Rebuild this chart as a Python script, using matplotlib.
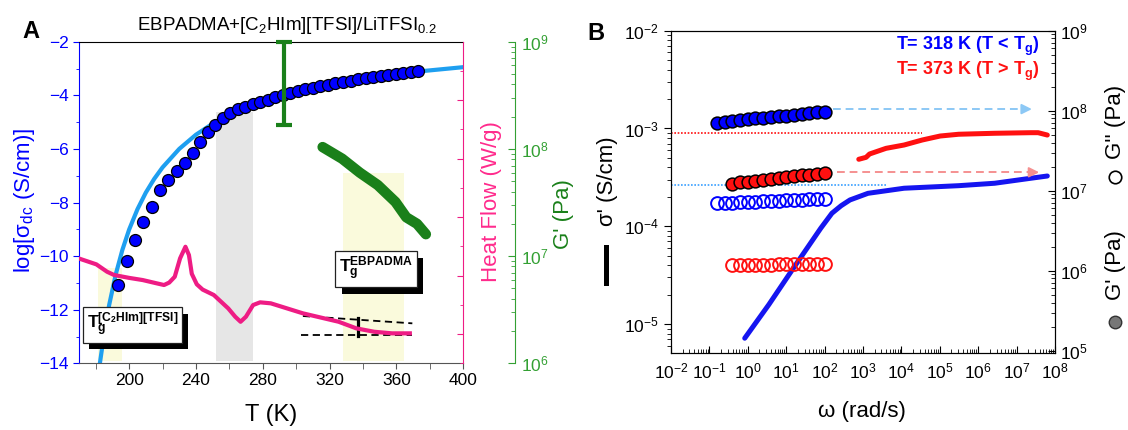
import numpy as np
import matplotlib.pyplot as plt
from matplotlib.lines import Line2D
from matplotlib.patches import Rectangle
from matplotlib.transforms import IdentityTransform
from matplotlib.ticker import MultipleLocator, LogLocator, NullFormatter

plt.rcParams['font.family'] = ['Liberation Sans', 'DejaVu Sans']
plt.rcParams['mathtext.fontset'] = 'custom'
plt.rcParams['mathtext.rm'] = 'Liberation Sans'
plt.rcParams['mathtext.it'] = 'Liberation Sans:italic'
plt.rcParams['mathtext.bf'] = 'Liberation Sans:bold'

# ---------------- Panel A data ----------------
# conductivity (log sigma_dc) vs T
T_pts = [193.2, 198.5, 203.4, 208.1, 213.4, 218.7, 223.5, 228.4, 233.3, 238.0, 242.6,
         247.0, 251.5, 256.0, 260.5, 265.0, 269.5, 274.0, 278.5, 283.0, 287.5, 292.0,
         296.5, 301.0, 305.5, 310.0, 314.5, 319.0, 323.5, 328.0, 332.5, 337.0, 341.5,
         346.0, 350.5, 355.0, 359.5, 364.0, 368.5, 373.0]
logsig_pts = [-11.08, -10.18, -9.40, -8.74, -8.16, -7.53, -7.16, -6.81, -6.54, -6.14, -5.73,
              -5.36, -5.11, -4.86, -4.67, -4.52, -4.42, -4.33, -4.24, -4.16, -4.08, -4.00,
              -3.92, -3.85, -3.78, -3.72, -3.66, -3.60, -3.55, -3.50, -3.45, -3.41, -3.36,
              -3.32, -3.28, -3.25, -3.21, -3.18, -3.14, -3.08]
# VFT fit curve
T_fit = [182.5, 185, 188, 192, 196, 200, 205, 210, 215, 220, 230, 240, 250, 260, 275,
         290, 310, 330, 350, 375, 400]
logsig_fit = [-14.0, -12.92, -11.84, -10.68, -9.76, -9.01, -8.25, -7.63, -7.12, -6.69,
              -6.00, -5.47, -5.06, -4.73, -4.34, -4.03, -3.72, -3.48, -3.29, -3.10, -2.95]
# DSC heat flow (arbitrary offset, W/g)
T_dsc = [169.7, 180.4, 186.8, 191.0, 200.0, 208.1, 216.0, 220.9, 224.0, 227.3, 230.5,
         233.7, 235.8, 237.5, 240.5, 244.0, 250.7, 259.3, 263.5, 266.7, 269.9, 274.2,
         278.4, 284.8, 304.0, 325.4, 336.0, 346.7, 357.4, 368.0]
heat_flow = [1.294, 1.191, 1.065, 1.009, 0.960, 0.923, 0.870, 0.838, 0.880, 0.979, 1.294,
             1.492, 1.350, 1.030, 0.850, 0.760, 0.667, 0.439, 0.296, 0.210, 0.296, 0.496,
             0.542, 0.525, 0.354, 0.210, 0.097, 0.039, 0.012, 0.012]
# Tg construction
T_tan_up = [304.0, 369.5]
hf_tan_up = [0.308, 0.183]
T_tan_low = [303.0, 369.0]
hf_tan_low = [-0.017, -0.017]
T_step = 337.1
hf_step = [-0.034, 0.268]
# storage modulus G'
T_gp = [315.8, 327.5, 338.1, 348.8, 359.4, 365.9, 372.3, 377.6]
Gp_A = [1.04e8, 8.1e7, 6.0e7, 4.6e7, 3.2e7, 2.3e7, 2.0e7, 1.6e7]
T_err = 292.7
G_err = 4.1e8
G_err_lo = 1.66e8
G_err_hi = 1.0e9
# shaded regions (T range, log sigma range)
band_yellow1 = [181.4, 195.7, -13.9, -10.46]
band_gray = [251.8, 274.2, -13.9, -4.61]
band_yellow2 = [328.1, 364.4, -13.9, -6.91]

# ---------------- Panel B data ----------------
logw_318 = [-0.08, 0.55, 1.15, 1.90, 2.19, 2.43, 2.66, 3.13, 4.07, 5.49, 6.43, 7.37, 7.80]
logsig_318 = [-5.145, -4.80, -4.45, -4.02, -3.867, -3.79, -3.731, -3.663, -3.611, -3.585,
              -3.560, -3.509, -3.486]
logw_373 = [2.89, 3.08, 3.17, 3.60, 4.07, 4.54, 5.01, 5.49, 6.43, 7.37, 7.56, 7.80]
logsig_373 = [-3.315, -3.295, -3.261, -3.203, -3.169, -3.118, -3.077, -3.059, -3.049,
              -3.043, -3.043, -3.067]
w_318 = [0.158, 0.251, 0.398, 0.631, 1.0, 1.58, 2.51, 3.98, 6.31, 10, 15.8, 25.1, 39.8, 63.1, 100]
w_373 = [0.398, 0.631, 1.0, 1.58, 2.51, 3.98, 6.31, 10, 15.8, 25.1, 39.8, 63.1, 100]
Gp_318 = [7.0e7, 7.2e7, 7.4e7, 7.6e7, 7.8e7, 8.0e7, 8.2e7, 8.3e7, 8.5e7, 8.7e7, 8.9e7,
          9.1e7, 9.3e7, 9.5e7, 9.7e7]
Gp_373 = [1.23e7, 1.27e7, 1.30e7, 1.34e7, 1.37e7, 1.41e7, 1.44e7, 1.48e7, 1.51e7, 1.55e7,
          1.58e7, 1.62e7, 1.66e7]
Gpp_318 = [6.95e6, 7.0e6, 7.1e6, 7.2e6, 7.25e6, 7.3e6, 7.4e6, 7.45e6, 7.5e6, 7.6e6,
           7.65e6, 7.7e6, 7.8e6, 7.85e6, 7.9e6]
Gpp_373 = [1.17e6, 1.175e6, 1.18e6, 1.185e6, 1.19e6, 1.195e6, 1.2e6, 1.205e6, 1.21e6,
           1.215e6, 1.22e6, 1.225e6, 1.23e6]
sig_dc_318 = 2.64e-4
sig_dc_373 = 8.93e-4

BLUE = '#0000ff'
LBLUE = '#1e9ff0'
PINK = '#ee1c84'
GREEN = '#1a801a'
GREEN_AX = '#33a033'
RED = '#ff1010'

W, H = 1128, 430
fig = plt.figure(figsize=(W / 100, H / 100), dpi=100)


def fx(px):
    return px / W


def fy(py):
    return 1 - py / H


# ================= Panel A =================
axA = fig.add_axes([fx(79), fy(363.3), fx(463.3 - 79), (363.3 - 41.7) / H])
for b in (band_yellow1, band_gray, band_yellow2):
    col = '#e6e6e6' if b is band_gray else '#fafadc'
    axA.fill_between([b[0], b[1]], b[2], b[3], color=col, lw=0, zorder=0)
axA.plot(T_fit, logsig_fit, color=LBLUE, lw=3, zorder=2)
axA.plot(T_pts, logsig_pts, 'o', ms=8.6, mfc=BLUE, mec='black', mew=0.9, zorder=3)
axA.set_xlim(170, 400)
axA.set_ylim(-14, -2)
axA.xaxis.set_major_locator(MultipleLocator(40))
axA.xaxis.set_minor_locator(MultipleLocator(20))
axA.yaxis.set_major_locator(MultipleLocator(2))
axA.yaxis.set_minor_locator(MultipleLocator(1))
axA.tick_params(axis='x', which='both', direction='out', length=4, color='#555555',
                labelsize=12.5, pad=3)
axA.tick_params(axis='y', which='major', direction='out', length=4, color=BLUE,
                labelcolor=BLUE, labelsize=12.5)
axA.tick_params(axis='y', which='minor', direction='out', length=2.5, color=BLUE)
axA.spines['left'].set_color(BLUE)
axA.spines['bottom'].set_color('#555555')
axA.spines['right'].set_visible(False)

axHF = axA.twinx()
axHF.plot(T_dsc, heat_flow, color=PINK, lw=3, zorder=3)
axHF.plot(T_tan_up, hf_tan_up, color='black', lw=1.3, ls=(0, (4, 2.5)))
axHF.plot(T_tan_low, hf_tan_low, color='black', lw=1.3, ls=(0, (4, 2.5)))
axHF.plot([T_step, T_step], hf_step, color='black', lw=2.3)
axHF.set_ylim(-0.5, 4.997)
axHF.yaxis.set_major_locator(MultipleLocator(1))
axHF.yaxis.set_minor_locator(MultipleLocator(0.5))
axHF.tick_params(axis='y', which='major', direction='in', length=4.5, color=PINK,
                 labelright=False)
axHF.tick_params(axis='y', which='minor', direction='in', length=2.5, color=PINK)
axHF.spines['right'].set_color(PINK)
for s in ('left', 'top', 'bottom'):
    axHF.spines[s].set_visible(False)

axG = axA.twinx()
axG.plot(T_gp, Gp_A, color=GREEN, lw=7.5, solid_capstyle='round', zorder=3)
axG.errorbar([T_err], [G_err], yerr=[[G_err - G_err_lo], [G_err_hi - G_err]], fmt='none',
             ecolor=GREEN, elinewidth=3, capsize=5.5, capthick=3, clip_on=False, zorder=4)
axG.set_yscale('log')
axG.set_ylim(1e6, 1e9)
axG.spines['right'].set_position(('axes', (515 - 79) / (463.3 - 79)))
axG.spines['right'].set_color(GREEN_AX)
for s in ('left', 'top', 'bottom'):
    axG.spines[s].set_visible(False)
axG.yaxis.set_major_locator(LogLocator(base=10, numticks=10))
axG.yaxis.set_minor_locator(LogLocator(base=10, subs=np.arange(2, 10), numticks=50))
axG.yaxis.set_minor_formatter(NullFormatter())
axG.tick_params(axis='y', which='major', direction='in', length=5, color=GREEN_AX,
                labelcolor=GREEN_AX, labelsize=12.5, pad=4)
axG.tick_params(axis='y', which='minor', direction='in', length=3, color=GREEN_AX)

# Tg boxes (white box with a black drop shadow)
box_txt1 = r'$\mathbf{T}_{\mathbf{g}}^{\mathbf{[C}_{\mathbf{2}}\mathbf{HIm][TFSI]}}$'
box_txt2 = r'$\mathbf{T}_{\mathbf{g}}^{\mathbf{EBPADMA}}$'
boxes = []
for txt, xy in ((box_txt1, (201.9, -12.57)), (box_txt2, (347.7, -10.49))):
    ann = axG.annotate(txt, xy=xy, xycoords=axA.transData, ha='center', va='center',
                       fontsize=12.5, color='black', zorder=10,
                       bbox=dict(boxstyle='square,pad=0.22', fc='white', ec='#222222',
                                 lw=0.9))
    boxes.append(ann)

# ================= Panel B =================
axB = fig.add_axes([fx(671), fy(352.7), fx(1055 - 671), (352.7 - 30.7) / H])
axB.set_xscale('log')
axB.set_yscale('log')
axB.plot([1e-2, 10 ** 4.54], [sig_dc_373, sig_dc_373], color=RED, lw=1.2, ls=(0, (1, 1)))
axB.plot([1e-2, 10 ** 3.6], [sig_dc_318, sig_dc_318], color='#3aa0ff', lw=1.2,
         ls=(0, (1, 1)))
axB.plot(10 ** np.array(logw_318), 10 ** np.array(logsig_318), color='#1515f0', lw=3.6,
         solid_capstyle='round')
axB.plot(10 ** np.array(logw_373), 10 ** np.array(logsig_373), color=RED, lw=3.6,
         solid_capstyle='round')
axB.set_xlim(1e-2, 1e8)
axB.set_ylim(10 ** -5.293, 1e-2)
axB.xaxis.set_major_locator(LogLocator(base=10, numticks=20))
axB.xaxis.set_minor_locator(LogLocator(base=10, subs=np.arange(2, 10), numticks=200))
axB.xaxis.set_minor_formatter(NullFormatter())
axB.yaxis.set_major_locator(LogLocator(base=10, numticks=20))
axB.yaxis.set_minor_locator(LogLocator(base=10, subs=np.arange(2, 10), numticks=200))
axB.yaxis.set_minor_formatter(NullFormatter())
axB.tick_params(axis='x', which='major', direction='in', length=5, labelsize=12.5, pad=6)
axB.tick_params(axis='x', which='minor', direction='in', length=3)
axB.tick_params(axis='y', which='major', direction='out', length=5, labelsize=12.5)
axB.tick_params(axis='y', which='minor', direction='out', length=3)

axBr = axB.twinx()
axBr.set_yscale('log')
axBr.plot(w_318, Gp_318, 'o', ms=9.2, mfc=BLUE, mec='black', mew=1.1)
axBr.plot(w_373, Gp_373, 'o', ms=9.2, mfc=RED, mec='black', mew=1.1)
axBr.plot(w_318, Gpp_318, 'o', ms=9.2, mfc='none', mec=BLUE, mew=1.4)
axBr.plot(w_373, Gpp_373, 'o', ms=9.2, mfc='none', mec=RED, mew=1.4)
# arrows pointing to the modulus axis
axBr.plot([10 ** 2.23, 10 ** 7.3], [10 ** 8.02, 10 ** 8.02], color='#8cc8f5', lw=1.4,
          ls=(0, (4, 2.5)))
axBr.annotate('', xy=(10 ** 7.47, 10 ** 8.02), xytext=(10 ** 7.2, 10 ** 8.02),
              arrowprops=dict(arrowstyle='-|>,head_length=0.6,head_width=0.3',
                              color='#8cc8f5', lw=1.4))
axBr.plot([10 ** 2.33, 10 ** 7.5], [10 ** 7.23, 10 ** 7.23], color='#f59090', lw=1.4,
          ls=(0, (4, 2.5)))
axBr.annotate('', xy=(10 ** 7.66, 10 ** 7.23), xytext=(10 ** 7.4, 10 ** 7.23),
              arrowprops=dict(arrowstyle='-|>,head_length=0.6,head_width=0.3',
                              color='#f59090', lw=1.4))
axBr.set_ylim(10 ** 4.975, 1e9)
axBr.yaxis.set_major_locator(LogLocator(base=10, numticks=20))
axBr.yaxis.set_minor_locator(LogLocator(base=10, subs=np.arange(2, 10), numticks=200))
axBr.yaxis.set_minor_formatter(NullFormatter())
axBr.tick_params(axis='y', which='major', direction='in', length=5, labelsize=12.5)
axBr.tick_params(axis='y', which='minor', direction='in', length=3)

narrow = ['Liberation Sans Narrow', 'Liberation Sans', 'DejaVu Sans']
fig.text(fx(1039), fy(46.7), r'T= 318 K (T < T$_\mathbf{g}$)', color=BLUE, fontsize=13,
         fontweight='bold', family=narrow, ha='right', va='center')
fig.text(fx(1039), fy(71.7), r'T= 373 K (T > T$_\mathbf{g}$)', color=RED, fontsize=13,
         fontweight='bold', family=narrow, ha='right', va='center')

# ================= labels =================
fig.text(fx(31), fy(31), 'A', fontsize=17, fontweight='bold', ha='center', va='center')
fig.text(fx(596), fy(33), 'B', fontsize=17, fontweight='bold', ha='center', va='center')
fig.text(fx(287.5), fy(25), r'EBPADMA+[C$_2$HIm][TFSI]/LiTFSI$_{0.2}$', fontsize=13.5,
         ha='center', va='center')
fig.text(fx(25), fy(200), r'log[σ$_{\mathrm{dc}}$ (S/cm)]', color=BLUE, fontsize=16,
         rotation=90, ha='center', va='center')
fig.text(fx(492), fy(202), 'Heat Flow (W/g)', color='#ff2a8c', fontsize=16, rotation=90,
         ha='center', va='center')
fig.text(fx(564), fy(214), "G' (Pa)", color=GREEN, fontsize=16, rotation=90,
         ha='center', va='center')
fig.text(fx(271), fy(415), 'T (K)', fontsize=17, ha='center', va='center')
fig.text(fx(608), fy(181.5), "σ' (S/cm)", fontsize=16, rotation=90, ha='center',
         va='center')
fig.add_artist(Line2D([fx(606), fx(606)], [fy(246.7), fy(283.3)], color='black', lw=3.6))
fig.text(fx(862), fy(411), 'ω (rad/s)', fontsize=16, ha='center', va='center')
fig.text(fx(1115), fy(122), "G'' (Pa)", fontsize=16, rotation=90, ha='center',
         va='center')
fig.text(fx(1115), fy(265), "G' (Pa)", fontsize=16, rotation=90, ha='center', va='center')
fig.add_artist(Line2D([fx(1115)], [fy(176.7)], marker='o', ms=9, mfc='white',
                      mec='black', mew=1.2))
fig.add_artist(Line2D([fx(1115)], [fy(321.7)], marker='o', ms=9, mfc='#777777',
                      mec='#333333', mew=1.0))

# drop shadows behind the Tg boxes, sized from the rendered boxes
fig.canvas.draw()
for ann in boxes:
    bb = ann.get_bbox_patch().get_window_extent()
    axG.add_patch(Rectangle((bb.x0 + 6.5, bb.y0 - 6.5), bb.width, bb.height,
                            transform=IdentityTransform(), fc='black', ec='none',
                            zorder=9, clip_on=False))

fig.savefig('out.png', dpi=100)
